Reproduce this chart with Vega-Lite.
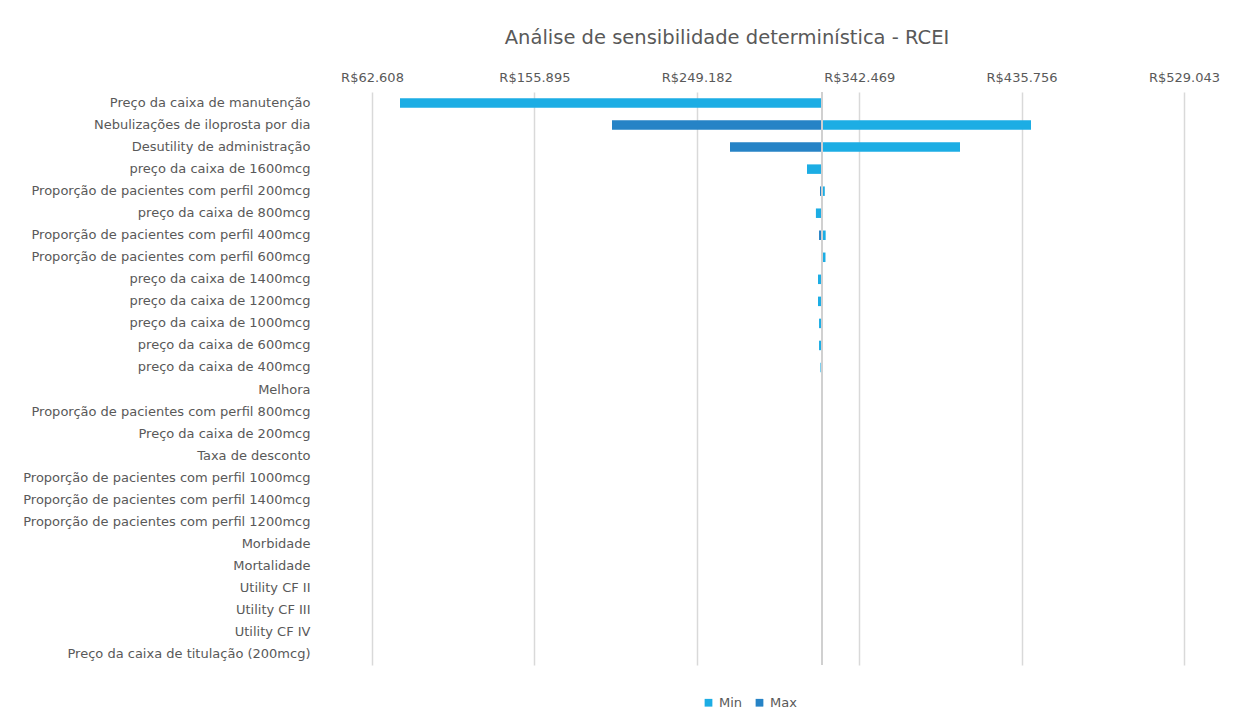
{
  "$schema": "https://vega.github.io/schema/vega-lite/v6.json",
  "width": 812,
  "height": 573,
  "autosize": {"type": "none"},
  "padding": {"left": 372, "top": 92, "right": 64, "bottom": 59},
  "background": "white",
  "config": {
    "locale": {"number": {"decimal": ",", "thousands": ".", "grouping": [3], "currency": ["R$", ""]}},
    "font": "DejaVu Sans",
    "view": {"stroke": null}
  },
  "title": {
    "text": "Análise de sensibilidade determinística - RCEI",
    "font": "DejaVu Sans",
    "fontSize": 19.5,
    "fontWeight": "normal",
    "color": "#595959",
    "anchor": "middle",
    "dx": -51,
    "offset": 23
  },
  "data": {
    "values": [
      {"parametro": "Preço da caixa de manutenção", "serie": "Min", "valor": 78692},
      {"parametro": "Nebulizações de iloprosta por dia", "serie": "Min", "valor": 441157},
      {"parametro": "Nebulizações de iloprosta por dia", "serie": "Max", "valor": 200471},
      {"parametro": "Desutility de administração", "serie": "Min", "valor": 400373},
      {"parametro": "Desutility de administração", "serie": "Max", "valor": 268254},
      {"parametro": "preço da caixa de 1600mcg", "serie": "Min", "valor": 312485},
      {"parametro": "Proporção de pacientes com perfil 200mcg", "serie": "Min", "valor": 322700},
      {"parametro": "Proporção de pacientes com perfil 200mcg", "serie": "Max", "valor": 319950},
      {"parametro": "preço da caixa de 800mcg", "serie": "Min", "valor": 317600},
      {"parametro": "Proporção de pacientes com perfil 400mcg", "serie": "Min", "valor": 323200},
      {"parametro": "Proporção de pacientes com perfil 400mcg", "serie": "Max", "valor": 319400},
      {"parametro": "Proporção de pacientes com perfil 600mcg", "serie": "Min", "valor": 323100},
      {"parametro": "preço da caixa de 1400mcg", "serie": "Min", "valor": 318800},
      {"parametro": "preço da caixa de 1200mcg", "serie": "Min", "valor": 318800},
      {"parametro": "preço da caixa de 1000mcg", "serie": "Min", "valor": 319400},
      {"parametro": "preço da caixa de 600mcg", "serie": "Min", "valor": 319400},
      {"parametro": "preço da caixa de 400mcg", "serie": "Min", "valor": 320200}
    ]
  },
  "encoding": {
    "y": {
      "field": "parametro",
      "type": "nominal",
      "scale": {
        "domain": [
          "Preço da caixa de manutenção",
          "Nebulizações de iloprosta por dia",
          "Desutility de administração",
          "preço da caixa de 1600mcg",
          "Proporção de pacientes com perfil 200mcg",
          "preço da caixa de 800mcg",
          "Proporção de pacientes com perfil 400mcg",
          "Proporção de pacientes com perfil 600mcg",
          "preço da caixa de 1400mcg",
          "preço da caixa de 1200mcg",
          "preço da caixa de 1000mcg",
          "preço da caixa de 600mcg",
          "preço da caixa de 400mcg",
          "Melhora",
          "Proporção de pacientes com perfil 800mcg",
          "Preço da caixa de 200mcg",
          "Taxa de desconto",
          "Proporção de pacientes com perfil 1000mcg",
          "Proporção de pacientes com perfil 1400mcg",
          "Proporção de pacientes com perfil 1200mcg",
          "Morbidade",
          "Mortalidade",
          "Utility CF II",
          "Utility CF III",
          "Utility CF IV",
          "Preço da caixa de titulação (200mcg)"
        ],
        "paddingInner": 0,
        "paddingOuter": 0
      },
      "axis": {
        "title": null,
        "ticks": false,
        "domain": false,
        "grid": false,
        "labelPadding": 62,
        "labelFontSize": 13,
        "labelColor": "#595959",
        "labelFont": "DejaVu Sans",
        "labelLimit": 400
      }
    }
  },
  "layer": [
    {
      "mark": {"type": "bar", "size": 9.5},
      "encoding": {
        "x": {
          "field": "valor",
          "type": "quantitative",
          "scale": {"domain": [62608, 529043], "nice": false, "zero": false},
          "axis": {
            "orient": "top",
            "title": null,
            "values": [62608, 155895, 249182, 342469, 435756, 529043],
            "format": "$,.0f",
            "ticks": false,
            "domain": false,
            "grid": true,
            "gridColor": "#D9D9D9",
            "gridWidth": 1.5,
            "labelPadding": 8,
            "labelFontSize": 13,
            "labelColor": "#595959",
            "labelFont": "DejaVu Sans",
            "labelFlush": false
          }
        },
        "x2": {"datum": 321100},
        "color": {
          "field": "serie",
          "type": "nominal",
          "scale": {"domain": ["Min", "Max"], "range": ["#1CADE4", "#2683C6"]},
          "legend": {
            "title": null,
            "orient": "none",
            "direction": "horizontal",
            "legendX": 330,
            "legendY": 604,
            "symbolType": "square",
            "symbolSize": 60,
            "symbolStrokeWidth": 0,
            "labelFontSize": 13,
            "labelColor": "#595959",
            "labelFont": "DejaVu Sans",
            "columnPadding": 10,
            "labelOffset": 4
          }
        },
        "order": {"field": "serie", "sort": "descending"}
      }
    },
    {
      "mark": {"type": "rule", "color": "#D0D0D0", "strokeWidth": 1.5},
      "encoding": {"x": {"datum": 321100}, "y": null}
    }
  ]
}
